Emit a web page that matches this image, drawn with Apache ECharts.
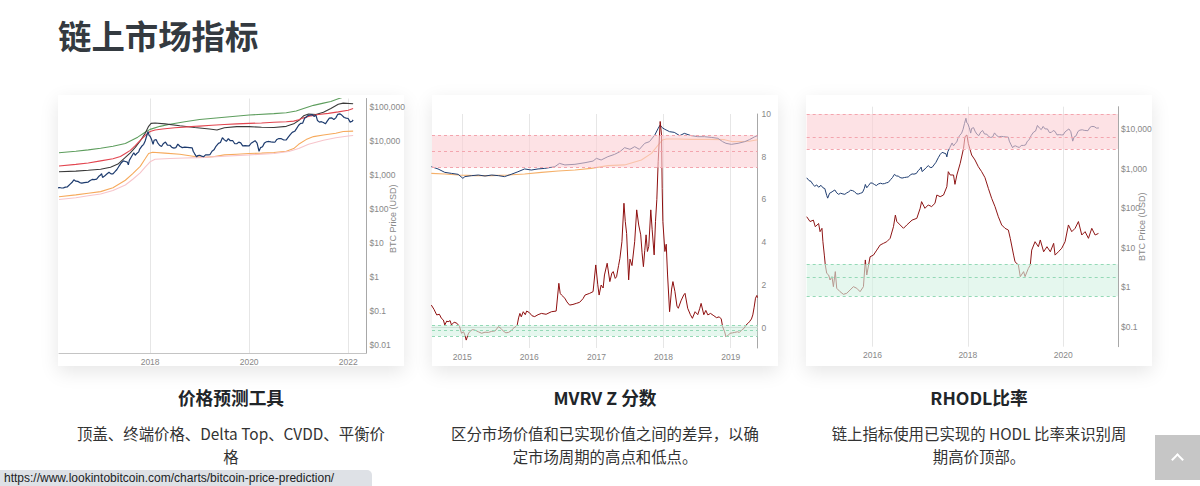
<!DOCTYPE html>
<html><head><meta charset="utf-8">
<script src="https://cdn.jsdelivr.net/npm/echarts@6/dist/echarts.min.js"></script>
<style>
html,body{margin:0;padding:0;width:1200px;height:486px;overflow:hidden;background:#fff;font-family:"Noto Sans CJK SC","Noto Sans",sans-serif;}
.card{position:absolute;top:95px;width:346px;height:271px;background:#fff;box-shadow:0 6px 18px rgba(0,0,0,0.10);}
#chart{position:absolute;left:0;top:0;width:1200px;height:486px;}
h1{position:absolute;left:58px;top:15px;margin:0;font-size:33.4px;font-weight:700;color:#343a40;line-height:40px;letter-spacing:0;}
.h{position:absolute;top:385px;width:346px;text-align:center;font-size:17.7px;font-weight:700;color:#212529;line-height:24px;}
.d{position:absolute;top:422px;width:346px;text-align:center;font-size:15.4px;color:#333;line-height:23px;}
.url{position:absolute;left:0;top:470px;height:16px;width:368px;padding-left:4px;background:#dee1e6;border-top-right-radius:5px;font-family:"Liberation Sans",sans-serif;font-size:12px;line-height:17px;color:#202124;white-space:nowrap;overflow:hidden;}
.totop{position:absolute;left:1155px;top:435px;width:45px;height:45px;background:#c6c6c6;}
.totop i{position:absolute;left:18px;top:20px;width:7px;height:7px;border-left:2px solid #fff;border-top:2px solid #fff;transform:rotate(45deg);}
</style></head>
<body>
<h1>链上市场指标</h1>
<div class="card" style="left:58px"></div>
<div class="card" style="left:432px"></div>
<div class="card" style="left:806px"></div>
<div id="chart"></div>
<div class="h" style="left:58px">价格预测工具</div>
<div class="h" style="left:432px">MVRV Z 分数</div>
<div class="h" style="left:806px">RHODL比率</div>
<div class="d" style="left:58px">顶盖、终端价格、Delta Top、CVDD、平衡价<br>格</div>
<div class="d" style="left:432px">区分市场价值和已实现价值之间的差异，以确<br>定市场周期的高点和低点。</div>
<div class="d" style="left:806px">链上指标使用已实现的 HODL 比率来识别周<br>期高价顶部。</div>
<div class="url">https://www.lookintobitcoin.com/charts/bitcoin-price-prediction/</div>
<div class="totop"><i></i></div>
<script>
// ---------- data ----------
const btcPrice = [[2014.62,590],[2014.67,500],[2014.71,480],[2014.75,400],[2014.79,360],[2014.83,390],[2014.87,340],[2014.92,380],[2014.96,330],[2015.0,315],[2015.04,210],[2015.06,180],[2015.1,240],[2015.13,250],[2015.17,270],[2015.21,290],[2015.25,245],[2015.29,225],[2015.33,240],[2015.38,230],[2015.42,225],[2015.46,245],[2015.5,260],[2015.54,285],[2015.58,280],[2015.62,265],[2015.67,230],[2015.71,230],[2015.75,240],[2015.79,250],[2015.83,320],[2015.85,400],[2015.88,330],[2015.92,380],[2015.96,440],[2016.0,430],[2016.04,400],[2016.08,375],[2016.12,410],[2016.17,430],[2016.21,415],[2016.25,420],[2016.29,440],[2016.33,450],[2016.38,530],[2016.42,600],[2016.46,720],[2016.5,660],[2016.54,650],[2016.58,600],[2016.62,580],[2016.67,600],[2016.71,610],[2016.75,620],[2016.79,690],[2016.83,740],[2016.87,730],[2016.92,760],[2016.96,900],[2017.0,1000],[2017.02,1100],[2017.04,850],[2017.08,930],[2017.12,1050],[2017.17,1200],[2017.21,1080],[2017.25,1080],[2017.29,1250],[2017.33,1450],[2017.38,1900],[2017.42,2300],[2017.46,2600],[2017.5,2500],[2017.54,2400],[2017.56,2000],[2017.58,2700],[2017.62,3400],[2017.67,4500],[2017.7,3800],[2017.73,4300],[2017.77,4800],[2017.79,5800],[2017.83,7000],[2017.87,8000],[2017.9,10000],[2017.93,14000],[2017.96,19000],[2017.98,14500],[2018.0,13800],[2018.03,11000],[2018.06,8000],[2018.08,10500],[2018.12,11000],[2018.15,9000],[2018.19,7500],[2018.23,6900],[2018.27,8500],[2018.31,9300],[2018.35,7600],[2018.4,7500],[2018.44,6500],[2018.48,6200],[2018.52,6400],[2018.56,8100],[2018.6,7000],[2018.65,6400],[2018.7,6600],[2018.75,6500],[2018.8,6400],[2018.85,6300],[2018.87,5000],[2018.9,4200],[2018.94,3400],[2018.96,3700],[2019.0,3800],[2019.04,3600],[2019.08,3450],[2019.12,3900],[2019.17,3900],[2019.21,4000],[2019.25,5000],[2019.29,5500],[2019.33,7000],[2019.38,8500],[2019.42,9000],[2019.46,12500],[2019.5,10800],[2019.54,9800],[2019.58,11800],[2019.62,10200],[2019.67,10200],[2019.71,8300],[2019.75,8300],[2019.79,9300],[2019.83,8800],[2019.87,7200],[2019.92,7300],[2019.96,7200],[2020.0,7200],[2020.04,8600],[2020.08,9400],[2020.12,10200],[2020.16,8700],[2020.2,5000],[2020.23,6400],[2020.27,6800],[2020.31,8800],[2020.35,9500],[2020.4,9700],[2020.44,9400],[2020.48,9300],[2020.52,9200],[2020.56,11100],[2020.6,11800],[2020.65,11700],[2020.7,10700],[2020.75,10800],[2020.79,13000],[2020.83,15500],[2020.87,18000],[2020.92,19300],[2020.96,23500],[2021.0,29000],[2021.04,33000],[2021.08,33500],[2021.12,47000],[2021.15,50000],[2021.19,57000],[2021.23,58000],[2021.27,60000],[2021.31,53000],[2021.35,57000],[2021.38,40000],[2021.42,36000],[2021.46,37000],[2021.5,35000],[2021.54,32000],[2021.58,39000],[2021.62,47000],[2021.67,48000],[2021.71,43000],[2021.75,48000],[2021.79,61000],[2021.83,63000],[2021.87,58000],[2021.92,49000],[2021.96,47000],[2022.0,46000],[2022.04,36000],[2022.08,38000],[2022.1,42000]];

// price prediction tools (chart 1)
const topCap = [[2016.16,4500],[2016.5,5000],[2016.75,5500],[2017.0,6100],[2017.25,7000],[2017.5,8500],[2017.75,13000],[2017.9,18000],[2018.0,22000],[2018.2,27000],[2018.4,31000],[2018.7,37000],[2019.0,43000],[2019.5,50000],[2020.0,58000],[2020.5,64000],[2020.75,68000],[2020.95,76000],[2021.1,90000],[2021.3,112000],[2021.5,130000],[2021.65,145000],[2021.8,175000],[2021.9,195000]];
const terminalPrice = [[2016.16,1250],[2016.5,1300],[2016.75,1380],[2017.0,1480],[2017.2,1700],[2017.35,2100],[2017.5,3300],[2017.6,4500],[2017.7,6500],[2017.8,10000],[2017.9,17000],[2017.97,27000],[2018.02,33000],[2018.1,34000],[2018.3,32000],[2018.6,28000],[2018.9,25000],[2019.2,22500],[2019.35,21000],[2019.5,24500],[2019.75,26500],[2020.0,26500],[2020.25,25500],[2020.5,25000],[2020.75,27000],[2020.9,32000],[2021.0,40000],[2021.1,55000],[2021.2,62000],[2021.35,60000],[2021.5,70000],[2021.65,90000],[2021.8,120000],[2021.9,130000],[2022.1,125000]];
const deltaTop = [[2016.16,1850],[2016.5,2050],[2016.75,2250],[2017.0,2600],[2017.25,3000],[2017.4,3500],[2017.5,4300],[2017.6,5300],[2017.7,7300],[2017.8,10500],[2017.9,14500],[2018.0,19000],[2018.1,21000],[2018.25,22500],[2018.5,24500],[2018.75,26000],[2019.0,27500],[2019.25,29000],[2019.5,30500],[2019.75,32000],[2020.0,33000],[2020.25,34000],[2020.5,35500],[2020.75,37000],[2020.9,38500],[2021.0,42000],[2021.1,48000],[2021.25,55000],[2021.4,60000],[2021.6,65000],[2021.8,72000],[2022.0,80000],[2022.1,90000]];
const cvdd = [[2016.16,230],[2016.5,260],[2016.75,290],[2017.0,325],[2017.25,420],[2017.5,700],[2017.65,1100],[2017.8,1800],[2017.9,3000],[2017.97,4300],[2018.05,4650],[2018.3,4400],[2018.6,4100],[2018.9,3500],[2019.1,3300],[2019.3,3500],[2019.5,3900],[2019.75,4100],[2020.0,4300],[2020.25,4400],[2020.5,4600],[2020.75,5000],[2020.9,6000],[2021.0,8000],[2021.15,11000],[2021.3,13500],[2021.5,15000],[2021.75,17000],[2021.9,19000],[2022.1,19500]];
const balancedPrice = [[2016.16,190],[2016.5,215],[2016.75,245],[2017.0,275],[2017.25,350],[2017.5,510],[2017.65,750],[2017.8,1150],[2017.9,1700],[2018.0,2450],[2018.1,2900],[2018.4,3050],[2018.7,3150],[2019.0,3250],[2019.5,3550],[2020.0,3900],[2020.5,4300],[2020.8,4900],[2021.0,6000],[2021.2,8000],[2021.5,10500],[2021.75,12500],[2022.0,14000],[2022.1,14500]];

// MVRV (chart 2) – caps in billions USD, Z score
const marketCap = [[2014.54,9.4],[2014.64,7.7],[2014.74,5.7],[2014.84,5.2],[2014.94,4.78],[2015.01,3.36],[2015.04,3.9],[2015.14,4.25],[2015.24,4.5],[2015.34,4.12],[2015.44,4.5],[2015.54,4.25],[2015.63,3.9],[2015.73,4.78],[2015.83,6.0],[2015.93,7.7],[2016.03,7.0],[2016.13,7.7],[2016.23,8.1],[2016.38,9.4],[2016.45,12.6],[2016.53,11],[2016.68,11.6],[2016.83,13.4],[2016.95,15.5],[2017.0,19.7],[2017.07,17],[2017.17,22.8],[2017.27,28],[2017.35,35.6],[2017.42,50.7],[2017.5,43.8],[2017.57,55.4],[2017.64,43.8],[2017.72,74.5],[2017.79,86.3],[2017.87,156],[2017.92,281],[2017.95,378],[2017.98,298],[2018.02,257],[2018.09,209],[2018.16,197],[2018.24,147],[2018.31,180],[2018.41,147],[2018.51,134],[2018.61,134],[2018.71,126],[2018.81,116],[2018.88,86.3],[2018.93,74.5],[2019.01,68],[2019.11,74.5],[2019.21,86.3],[2019.28,103],[2019.36,134],[2019.4,147]];
const realizedCap = [[2014.54,5.2],[2014.74,4.92],[2014.94,4.5],[2015.19,4.25],[2015.44,4.25],[2015.68,4.5],[2015.93,4.92],[2016.18,5.7],[2016.43,6.42],[2016.68,7.0],[2016.92,8.1],[2017.17,10.3],[2017.42,11],[2017.67,17],[2017.82,30.7],[2017.92,64.2],[2017.99,103],[2018.04,109],[2018.21,109],[2018.41,106],[2018.66,106],[2018.91,103],[2019.03,86.3],[2019.28,90],[2019.4,103]];
const mvrvZ = [[2014.54,1.05],[2014.58,0.85],[2014.62,0.59],[2014.66,0.62],[2014.69,0.43],[2014.72,0.35],[2014.74,0.12],[2014.77,0.3],[2014.79,0.27],[2014.82,0.32],[2014.84,0.12],[2014.88,0.25],[2014.92,0.2],[2014.96,0.05],[2014.99,-0.27],[2015.02,-0.2],[2015.04,-0.35],[2015.06,-0.59],[2015.09,-0.3],[2015.11,-0.2],[2015.15,-0.1],[2015.19,-0.12],[2015.24,-0.2],[2015.29,-0.27],[2015.34,-0.22],[2015.39,-0.23],[2015.44,-0.18],[2015.49,-0.16],[2015.54,0.04],[2015.58,-0.05],[2015.61,-0.16],[2015.65,-0.25],[2015.69,-0.23],[2015.73,-0.15],[2015.76,-0.04],[2015.8,0.05],[2015.82,0.12],[2015.84,0.45],[2015.86,0.66],[2015.88,0.5],[2015.91,0.74],[2015.94,0.6],[2015.96,0.77],[2016.0,0.7],[2016.04,0.55],[2016.08,0.51],[2016.13,0.6],[2016.18,0.66],[2016.25,0.62],[2016.33,0.74],[2016.4,0.77],[2016.44,2.07],[2016.46,1.6],[2016.48,1.52],[2016.53,1.37],[2016.56,1.2],[2016.6,1.05],[2016.65,1.08],[2016.7,1.13],[2016.75,1.18],[2016.8,1.35],[2016.83,1.52],[2016.9,1.6],[2016.95,1.68],[2016.99,2.93],[2017.02,2.0],[2017.04,1.52],[2017.07,1.99],[2017.1,1.85],[2017.12,2.46],[2017.16,3.01],[2017.2,2.15],[2017.23,2.55],[2017.25,2.62],[2017.28,2.3],[2017.3,2.38],[2017.33,2.9],[2017.35,3.24],[2017.38,4.02],[2017.41,5.82],[2017.43,4.96],[2017.45,4.4],[2017.48,2.23],[2017.5,3.2],[2017.53,2.9],[2017.57,4.02],[2017.6,5.51],[2017.63,4.8],[2017.66,4.34],[2017.68,3.5],[2017.7,2.85],[2017.72,3.6],[2017.74,4.34],[2017.76,3.56],[2017.78,3.8],[2017.81,5.51],[2017.83,4.6],[2017.86,3.4],[2017.88,4.96],[2017.9,6.0],[2017.92,7.77],[2017.95,9.65],[2017.97,9.02],[2017.98,6.5],[2017.99,4.96],[2018.02,3.56],[2018.04,3.9],[2018.06,2.46],[2018.09,0.74],[2018.12,1.8],[2018.14,2.15],[2018.17,1.68],[2018.2,1.0],[2018.22,0.9],[2018.26,1.25],[2018.3,1.52],[2018.32,1.6],[2018.36,0.9],[2018.4,0.6],[2018.43,0.43],[2018.47,0.74],[2018.51,0.6],[2018.54,0.9],[2018.56,1.13],[2018.6,0.6],[2018.63,0.8],[2018.66,0.59],[2018.7,0.66],[2018.75,0.55],[2018.79,0.46],[2018.83,0.5],[2018.86,0.4],[2018.88,0.04],[2018.91,-0.2],[2018.93,-0.43],[2018.96,-0.38],[2018.99,-0.27],[2019.03,-0.25],[2019.06,-0.23],[2019.1,-0.2],[2019.13,-0.23],[2019.17,-0.1],[2019.2,-0.04],[2019.23,0.12],[2019.26,0.2],[2019.28,0.27],[2019.31,0.4],[2019.33,0.59],[2019.35,0.95],[2019.37,1.37],[2019.39,1.5],[2019.4,1.4]];
const zHotBand = [7.5, 8.25, 9.0];
const zColdBand = [-0.4, -0.15, 0.1];

// RHODL (chart 3)
const rhodl = [[2014.62,61],[2014.69,46],[2014.76,50],[2014.8,34],[2014.87,41],[2014.9,25.5],[2014.94,31],[2014.96,14.2],[2014.99,6.5],[2015.01,3.65],[2015.04,2.24],[2015.08,2.04],[2015.11,1.52],[2015.15,1.85],[2015.18,1.03],[2015.22,2.48],[2015.25,0.94],[2015.32,0.77],[2015.39,0.66],[2015.46,0.7],[2015.53,0.85],[2015.6,1.03],[2015.67,0.94],[2015.74,0.77],[2015.81,1.03],[2015.85,4.9],[2015.88,2.04],[2015.95,5.9],[2016.02,6.5],[2016.09,8.7],[2016.16,11.7],[2016.23,12.9],[2016.3,14.2],[2016.37,17.3],[2016.44,34],[2016.48,67],[2016.51,46],[2016.58,37.7],[2016.65,31],[2016.72,37.7],[2016.83,50],[2016.93,55.5],[2017.0,99.5],[2017.03,147],[2017.1,99.5],[2017.17,121],[2017.24,110],[2017.31,133],[2017.35,216],[2017.42,196],[2017.49,216],[2017.56,351],[2017.59,843],[2017.63,695],[2017.7,695],[2017.73,403],[2017.77,695],[2017.84,1374],[2017.91,3296],[2017.94,6500],[2017.98,7160],[2018.01,4400],[2018.08,2230],[2018.15,1670],[2018.22,1130],[2018.29,843],[2018.36,594],[2018.43,319],[2018.5,178],[2018.57,110],[2018.64,61],[2018.71,37.7],[2018.78,31],[2018.85,28],[2018.89,17.3],[2018.96,6.5],[2018.99,4.4],[2019.06,3.65],[2019.1,1.85],[2019.17,2.48],[2019.2,1.85],[2019.27,3.0],[2019.31,3.65],[2019.34,8.7],[2019.41,14.2],[2019.48,10.6],[2019.52,15.7],[2019.59,7.9],[2019.66,10.6],[2019.73,7.9],[2019.8,12.9],[2019.83,6.5],[2019.9,7.9],[2019.97,9.7],[2020.04,14.2],[2020.11,37.7],[2020.18,25.5],[2020.25,31],[2020.32,46],[2020.39,21],[2020.46,25.5],[2020.53,17.3],[2020.6,31],[2020.67,21],[2020.74,23]];
const rhodlHotBand = [3170, 6120, 24400];
const rhodlColdBand = [0.59, 1.74, 3.8];

// ---------- chart ----------
const gray = '#888888';
const labelFont = 'Liberation Sans';
function dollar(v) {
  const e = Math.round(Math.log10(v));
  const n = Math.pow(10, e);
  return '$' + (e >= 0 ? n.toLocaleString('en-US') : n.toFixed(-e));
}
function xAxisOf(grid, min, max, split, showLine) {
  return {
    type: 'value', gridIndex: grid, min: min, max: max, splitNumber: split,
    axisLine: { show: showLine, lineStyle: { color: '#c4c4c4', width: 1 } },
    axisTick: { show: false },
    axisLabel: { color: gray, fontSize: 8.5, fontFamily: labelFont, margin: 4, showMinLabel: false, showMaxLabel: false,
      formatter: v => String(Math.round(v)) },
    splitLine: { show: true, showMinLine: false, showMaxLine: false, lineStyle: { color: '#e6e6e6', width: 1 } }
  };
}
const visAxisBase = {
  position: 'right',
  axisLine: { show: true, lineStyle: { color: '#a8a8a8', width: 1 } },
  axisTick: { show: false },
  splitLine: { show: false }
};
function line(name, data, color, xi, yi, width, z) {
  return { name: name, type: 'line', data: data, xAxisIndex: xi, yAxisIndex: yi, showSymbol: false, symbol: 'none',
    lineStyle: { color: color, width: width || 1 }, itemStyle: { color: color }, z: z || 2, silent: true };
}
function bands(hot, cold) {
  return {
    markArea: { silent: true, z: 3, data: [
      [{ yAxis: hot[0], itemStyle: { color: 'rgba(252,207,212,0.6)' } }, { yAxis: hot[2] }],
      [{ yAxis: cold[0], itemStyle: { color: 'rgba(212,242,227,0.6)' } }, { yAxis: cold[2] }]
    ] },
    markLine: { silent: true, symbol: ['none', 'none'], label: { show: false }, z: 4,
      data: hot.map(v => ({ yAxis: v, lineStyle: { color: '#f3a5ae', type: [3, 3], width: 1 } }))
        .concat(cold.map(v => ({ yAxis: v, lineStyle: { color: '#94d9b6', type: [3, 3], width: 1 } }))) }
  };
}

const chart = echarts.init(document.getElementById('chart'), null, { renderer: 'svg' });
const zSeries = Object.assign(line('MVRV Z-Score', mvrvZ, '#8e0f0f', 1, 1, 1, 2), bands(zHotBand, zColdBand));
const rhodlSeries = Object.assign(line('RHODL Ratio', rhodl, '#8e1616', 2, 4, 1, 2), bands(rhodlHotBand, rhodlColdBand));
const nameStyle = { color: gray, fontSize: 9, fontFamily: labelFont };

chart.setOption({
  animation: false,
  backgroundColor: 'transparent',
  grid: [
    { left: 59, top: 98.5, width: 307.5, height: 254.5, outerBoundsMode: 'none' },
    { left: 432, top: 114, width: 325.5, height: 234, outerBoundsMode: 'none' },
    { left: 806.7, top: 106.7, width: 311.3, height: 240, outerBoundsMode: 'none' }
  ],
  xAxis: [
    xAxisOf(0, 2016.16, 2022.37, 3, true),
    xAxisOf(1, 2014.55, 2019.4, 5, true),
    xAxisOf(2, 2014.62, 2021.15, 3, false)
  ],
  yAxis: [
    Object.assign({}, visAxisBase, { type: 'log', gridIndex: 0, min: 0.00582, max: 178000,
      axisLabel: { color: gray, fontSize: 8.5, fontFamily: labelFont, margin: 3, showMinLabel: false, showMaxLabel: false, formatter: dollar },
      name: 'BTC Price (USD)', nameLocation: 'middle', nameRotate: 90, nameGap: 22, nameMoveOverlap: false,
      nameTextStyle: Object.assign({ padding: [0, 0, 0, 14] }, nameStyle) }),
    Object.assign({}, visAxisBase, { type: 'value', gridIndex: 1, min: -0.96, max: 10, splitNumber: 5,
      axisLabel: { color: gray, fontSize: 8.5, fontFamily: labelFont, margin: 4, showMinLabel: false, formatter: v => String(Math.round(v)) } }),
    { type: 'log', gridIndex: 1, min: 1e-6, max: 1000, show: false, position: 'left' },
    Object.assign({}, visAxisBase, { type: 'log', gridIndex: 2, min: 0.0311, max: 37300,
      axisLabel: { color: gray, fontSize: 8.5, fontFamily: labelFont, margin: 3, showMinLabel: false, showMaxLabel: false, formatter: dollar },
      name: 'BTC Price (USD)', nameLocation: 'middle', nameRotate: 90, nameGap: 19, nameMoveOverlap: false,
      nameTextStyle: nameStyle }),
    { type: 'log', gridIndex: 2, min: 0.0311, max: 37300, show: false, position: 'left' }
  ],
  series: [
    line('Top Cap', topCap, '#5e9e5e', 0, 0, 1.1),
    line('Terminal Price', terminalPrice, '#3a3a3a', 0, 0, 1.1),
    line('Delta Top', deltaTop, '#e2454f', 0, 0, 1.1),
    line('CVDD', cvdd, '#f6aa5c', 0, 0, 1.1),
    line('Balanced Price', balancedPrice, '#f7c5cb', 0, 0, 1.1),
    line('BTC Price', btcPrice, '#1d3b6e', 0, 0, 1.2, 3),
    line('Realized Cap', realizedCap, '#f5b06a', 1, 2, 1.1),
    line('Market Cap', marketCap, '#1f3d70', 1, 2, 1),
    zSeries,
    line('BTC Price', btcPrice.filter(p => p[0] <= 2020.76), '#1f3d70', 2, 3, 1),
    rhodlSeries
  ]
});
</script>
</body></html>
